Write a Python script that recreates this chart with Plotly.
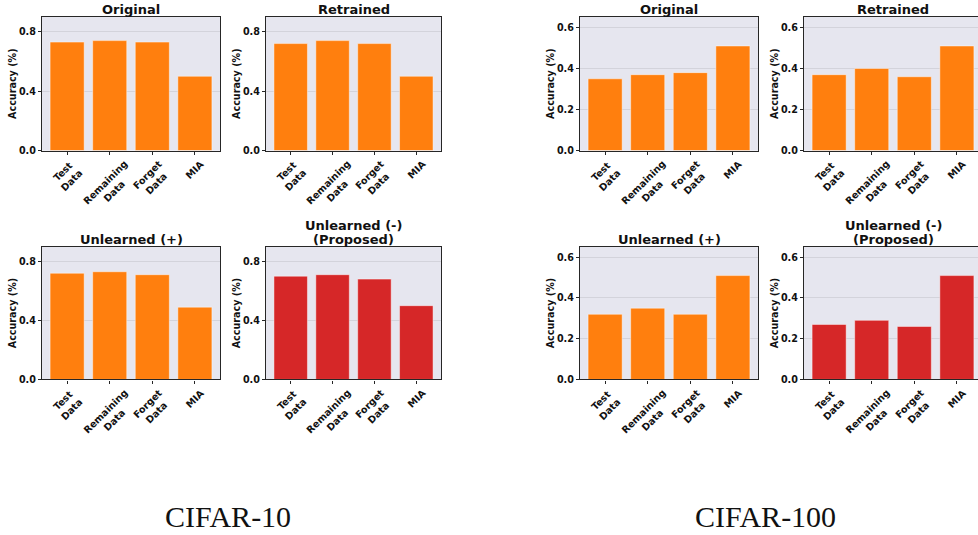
import plotly.graph_objects as go

W, H = 978, 535

categories = ["Test<br>Data", "Remaining<br>Data", "Forget<br>Data", "MIA"]

cifar10_original = [0.73, 0.74, 0.73, 0.50]
cifar10_retrained = [0.72, 0.74, 0.72, 0.50]
cifar10_unlearned_plus = [0.72, 0.73, 0.71, 0.49]
cifar10_unlearned_minus = [0.70, 0.71, 0.68, 0.50]

cifar100_original = [0.35, 0.37, 0.38, 0.51]
cifar100_retrained = [0.37, 0.40, 0.36, 0.51]
cifar100_unlearned_plus = [0.32, 0.35, 0.32, 0.51]
cifar100_unlearned_minus = [0.27, 0.29, 0.26, 0.51]

titles = [["Original"], ["Retrained"], ["Unlearned (+)"], ["Unlearned (-)", "(Proposed)"]]
dataset_names = ["CIFAR-10", "CIFAR-100"]

ORANGE = "#ff7f0e"
RED = "#d62728"
BG = "#e6e6ef"
GRID = "#d3d3db"
SPINE = "#262626"
FONT = "DejaVu Sans"
FS = 9.6

# panel pixel boxes: (x0, x1, xrange_end)
col_px = [(42, 220, 3.59), (266, 441, 3.59), (580, 758, 3.59), (804, 978, 3.496)]
row_px = [(17, 152), (249, 383)]

panels = [
    (0, 0, cifar10_original, ORANGE, titles[0], 0.9, [0.0, 0.4, 0.8]),
    (1, 0, cifar10_retrained, ORANGE, titles[1], 0.9, [0.0, 0.4, 0.8]),
    (0, 1, cifar10_unlearned_plus, ORANGE, titles[2], 0.9, [0.0, 0.4, 0.8]),
    (1, 1, cifar10_unlearned_minus, RED, titles[3], 0.9, [0.0, 0.4, 0.8]),
    (2, 0, cifar100_original, ORANGE, titles[0], 0.652, [0.0, 0.2, 0.4, 0.6]),
    (3, 0, cifar100_retrained, ORANGE, titles[1], 0.652, [0.0, 0.2, 0.4, 0.6]),
    (2, 1, cifar100_unlearned_plus, ORANGE, titles[2], 0.652, [0.0, 0.2, 0.4, 0.6]),
    (3, 1, cifar100_unlearned_minus, RED, titles[3], 0.652, [0.0, 0.2, 0.4, 0.6]),
]

fig = go.Figure()
annotations = []
layout_axes = {}

for i, (c, r, vals, color, title_lines, ymax, ticks) in enumerate(panels, start=1):
    x0, x1, xr_end = col_px[c]
    yt, yb = row_px[r]
    xd = [x0 / W, x1 / W]
    yd = [(H - yb) / H, (H - yt) / H]
    sfx = "" if i == 1 else str(i)
    fig.add_trace(go.Bar(
        x=categories, y=vals,
        marker=dict(color=color, line=dict(color="rgba(255,255,255,0.45)", width=1)),
        xaxis="x" + sfx, yaxis="y" + sfx, showlegend=False,
    ))
    last_col = (c == 3)
    layout_axes["xaxis" + sfx] = dict(
        domain=xd, anchor="y" + sfx, type="category",
        range=[-0.59, xr_end], showgrid=False,
        showline=True, linecolor=SPINE, linewidth=1.3, mirror=True,
        ticks="outside", ticklen=3, tickwidth=1, tickcolor=SPINE,
        showticklabels=False,
        fixedrange=True,
    )
    layout_axes["yaxis" + sfx] = dict(
        domain=yd, anchor="x" + sfx, range=[0, ymax],
        tickvals=ticks, ticktext=[f"{t:.1f}" for t in ticks],
        showgrid=True, gridcolor=GRID, gridwidth=1, zeroline=False,
        showline=True, linecolor=SPINE, linewidth=1.3,
        mirror=(not last_col),
        ticks="outside", ticklen=3, tickwidth=1, tickcolor=SPINE,
        tickfont=dict(family=FONT, size=FS, color="#111111", weight="bold"),
        title=dict(text="Accuracy (%)", standoff=0,
                   font=dict(family=FONT, size=FS, color="#111111", weight="bold")),
        fixedrange=True,
    )
    # rotated, centre-aligned category labels (matplotlib style)
    for cat in categories:
        annotations.append(dict(
            text="<b>" + cat.replace("<br>", "</b><br><b>") + "</b>",
            xref="x" + sfx, yref="y" + sfx, x=cat, y=0,
            xanchor="center", yanchor="top", yshift=-6,
            textangle=-45, align="center", showarrow=False, borderpad=0,
            font=dict(family=FONT, size=FS, color="#111111"),
        ))
    full_x1 = x0 + 178 if last_col else x1
    n = len(title_lines)
    for k, line in enumerate(title_lines):
        annotations.append(dict(
            text="<b>" + line + "</b>",
            xref="paper", yref="paper",
            x=((x0 + full_x1) / 2) / W, y=yd[1],
            xanchor="center", yanchor="bottom", yshift=-2.5 + 14 * (n - 1 - k),
            showarrow=False, align="center",
            font=dict(family=FONT, size=13, color="#111111"),
        ))

for name, cx in zip(dataset_names, [227.5, 765]):
    annotations.append(dict(text=name, xref="paper", yref="paper",
                            x=cx / W, y=(H - 521) / H, xanchor="center", yanchor="middle",
                            showarrow=False,
                            font=dict(family="Liberation Serif", size=30, color="#111111")))

fig.update_layout(
    width=W, height=H, margin=dict(l=0, r=0, t=0, b=0),
    paper_bgcolor="white", plot_bgcolor=BG,
    bargap=0.2, annotations=annotations,
    **layout_axes,
)

fig.write_html("out.html", config={"displayModeBar": False})
